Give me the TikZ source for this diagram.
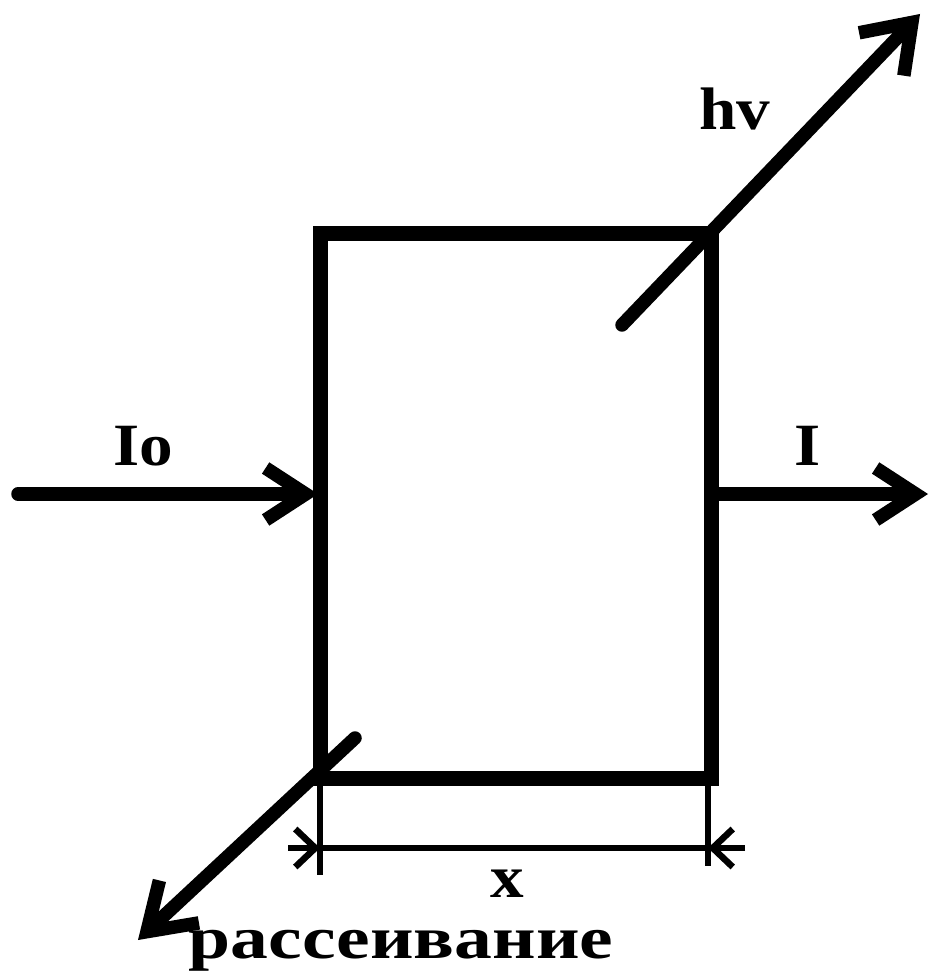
\documentclass[tikz,border=0pt]{standalone}
\usepackage{fontspec}
\setmainfont{Liberation Serif}
\usetikzlibrary{arrows.meta}
\begin{document}
\begin{tikzpicture}[x=1pt,y=-1pt,
  lbl/.style={font=\fontsize{60}{70}\selectfont\bfseries, inner sep=0pt, anchor=base},
  beam/.style={line width=13.5pt, line cap=round, -{Straight Barb[length=40pt,width=52pt]}},
  dimline/.style={line width=6.5pt},
  dimtip/.style={line width=6.5pt, -{Straight Barb[length=20pt,width=38pt]}}]
\useasboundingbox (0,0) rectangle (933,973);
\node[draw, line width=15pt, minimum width=391pt, minimum height=544pt, inner sep=0pt] (box) at (515.5,506) {};
% incoming beam
\coordinate (inS) at (18,494);
\coordinate (inE) at (318,494);
\draw[beam] (inS) -- (inE);
% outgoing beam
\coordinate (outS) at (711,494);
\coordinate (outE) at (928,494);
\draw[beam] (outS) -- (outE);
% emission
\coordinate (hvS) at (622,325);
\coordinate (hvE) at (920,14);
\draw[beam,-{Straight Barb[length=44pt,width=62pt]}] (hvS) -- (hvE);
% scattering
\coordinate (scS) at (355,738);
\coordinate (scE) at (138,940);
\draw[beam,-{Straight Barb[length=44pt,width=58pt]}] (scS) -- (scE);
% dimension
\coordinate (eL1) at (320,778);
\coordinate (eL2) at (320,875);
\coordinate (eR1) at (708,778);
\coordinate (eR2) at (708,866);
\coordinate (dL) at (288,848);
\coordinate (dR) at (745,848);
\coordinate (dLi) at (320,848);
\coordinate (dRi) at (708,848);
\draw[dimline] (eL1) -- (eL2);
\draw[dimline] (eR1) -- (eR2);
\draw[dimline] (dLi) -- (dRi);
\draw[dimtip] (dL) -- (dLi);
\draw[dimtip] (dR) -- (dRi);
% labels
\node[lbl] (Io) at (143,465) {\scalebox{1.12}[1]{Io}};
\node[lbl] (I) at (808,465) {\scalebox{1.12}[1]{I}};
\node[lbl] (hv) at (735,130) {\scalebox{1.12}[1]{hv}};
\node[lbl] (x) at (507,897) {\scalebox{1.12}[1]{x}};
\node[lbl] (sc) at (401,958) {\scalebox{1.26}[1]{рассеивание}};
\end{tikzpicture}
\end{document}
